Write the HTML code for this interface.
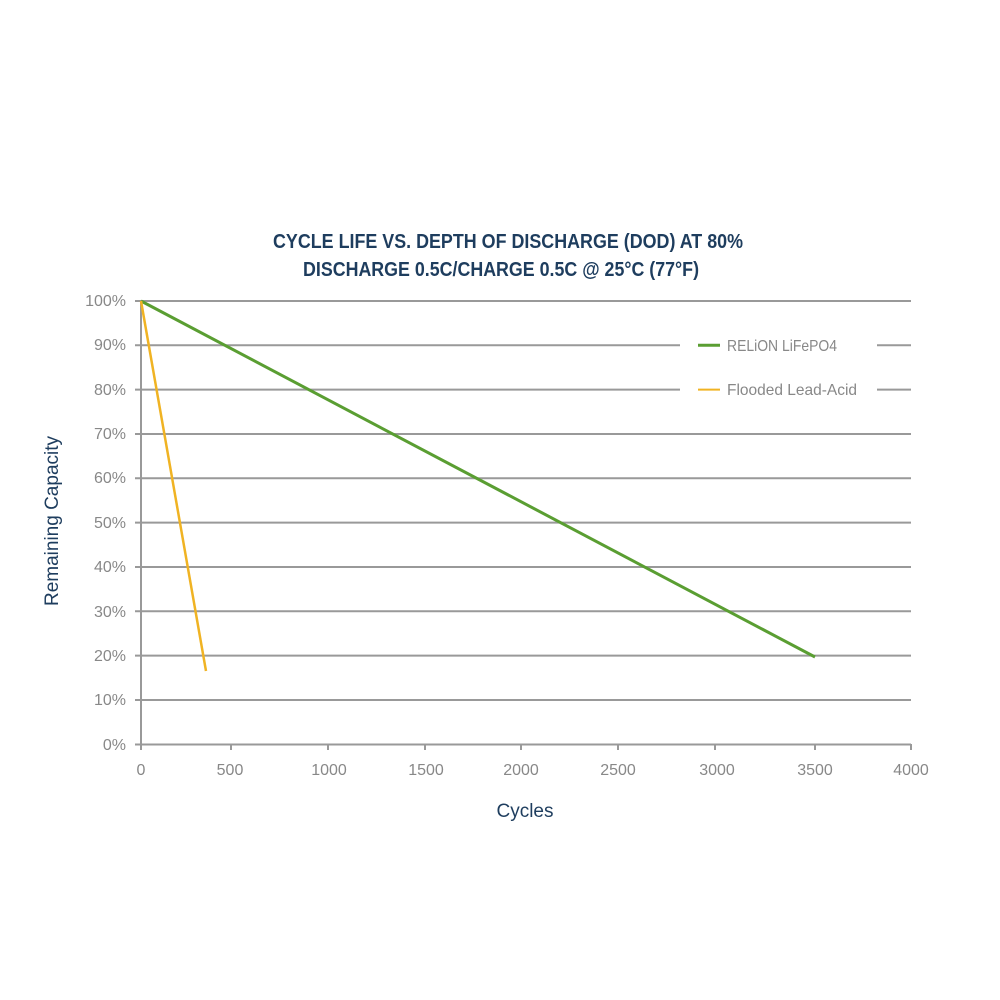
<!DOCTYPE html>
<html><head><meta charset="utf-8"><style>
html,body{margin:0;padding:0;background:#fff;width:1000px;height:1000px;overflow:hidden}
</style></head><body>
<svg width="1000" height="1000" viewBox="0 0 1000 1000" xmlns="http://www.w3.org/2000/svg" font-family="'Liberation Sans',sans-serif">
<g fill="#1e3d5e" font-weight="bold" font-size="20">
<text x="273" y="248" textLength="470" lengthAdjust="spacingAndGlyphs">CYCLE LIFE VS. DEPTH OF DISCHARGE (DOD) AT 80%</text>
<text x="303" y="276" textLength="396" lengthAdjust="spacingAndGlyphs">DISCHARGE 0.5C/CHARGE 0.5C @ 25°C (77°F)</text>
</g>
<g stroke="#999" stroke-width="2">
<line x1="135" y1="301" x2="911" y2="301"/>
<line x1="135" y1="345.3" x2="680" y2="345.3"/><line x1="877" y1="345.3" x2="911" y2="345.3"/>
<line x1="135" y1="389.6" x2="680" y2="389.6"/><line x1="877" y1="389.6" x2="911" y2="389.6"/>
<line x1="135" y1="434" x2="911" y2="434"/>
<line x1="135" y1="478.3" x2="911" y2="478.3"/>
<line x1="135" y1="522.6" x2="911" y2="522.6"/>
<line x1="135" y1="567" x2="911" y2="567"/>
<line x1="135" y1="611.3" x2="911" y2="611.3"/>
<line x1="135" y1="655.6" x2="911" y2="655.6"/>
<line x1="135" y1="700" x2="911" y2="700"/>
<line x1="135" y1="744.5" x2="911" y2="744.5"/>
<line x1="141" y1="301" x2="141" y2="750"/>
<line x1="231" y1="744" x2="231" y2="750"/>
<line x1="328" y1="744" x2="328" y2="750"/>
<line x1="425" y1="744" x2="425" y2="750"/>
<line x1="521" y1="744" x2="521" y2="750"/>
<line x1="618" y1="744" x2="618" y2="750"/>
<line x1="715" y1="744" x2="715" y2="750"/>
<line x1="815" y1="744" x2="815" y2="750"/>
<line x1="911" y1="744" x2="911" y2="750"/>
</g>
<g fill="#888" font-size="16" text-anchor="end">
<text x="126" y="306">100%</text><text x="126" y="350">90%</text><text x="126" y="395">80%</text>
<text x="126" y="439">70%</text><text x="126" y="483">60%</text><text x="126" y="528">50%</text>
<text x="126" y="572">40%</text><text x="126" y="617">30%</text><text x="126" y="661">20%</text>
<text x="126" y="705">10%</text><text x="126" y="750">0%</text>
</g>
<g fill="#888" font-size="16" text-anchor="middle">
<text x="141" y="775">0</text><text x="230" y="775">500</text><text x="329" y="775">1000</text>
<text x="426" y="775">1500</text><text x="521" y="775">2000</text><text x="618" y="775">2500</text>
<text x="717" y="775">3000</text><text x="815" y="775">3500</text><text x="911" y="775">4000</text>
</g>
<text x="525" y="817" fill="#1e3d5e" font-size="19" text-anchor="middle">Cycles</text>
<text transform="translate(58,521) rotate(-90)" fill="#1e3d5e" font-size="19" text-anchor="middle">Remaining Capacity</text>
<line x1="141" y1="301" x2="815" y2="657" stroke="#5a9e32" stroke-width="3"/>
<line x1="141" y1="301" x2="206" y2="671" stroke="#f0b323" stroke-width="2.5"/>
<line x1="698" y1="345.3" x2="720" y2="345.3" stroke="#5a9e32" stroke-width="3"/>
<line x1="698" y1="389.6" x2="720" y2="389.6" stroke="#f0b323" stroke-width="2"/>
<g fill="#888" font-size="16">
<text x="727" y="351" textLength="110" lengthAdjust="spacingAndGlyphs">RELiON LiFePO4</text>
<text x="727" y="395" textLength="130" lengthAdjust="spacingAndGlyphs">Flooded Lead-Acid</text>
</g>
</svg>
</body></html>
